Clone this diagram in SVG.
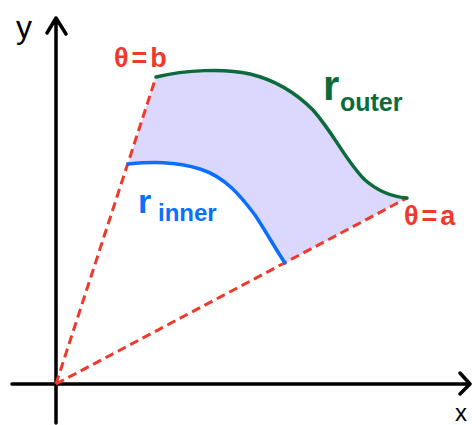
<svg xmlns="http://www.w3.org/2000/svg" width="472" height="425" viewBox="0 0 472 425">
<style>
.axis{stroke:#000;stroke-width:3.5;fill:none;stroke-linecap:round;stroke-linejoin:round}
.ray{stroke:#ee3a2c;stroke-width:3;fill:none;stroke-dasharray:9,5}
.lbl{font-family:"Liberation Sans","DejaVu Sans",sans-serif}
.b{font-weight:bold}
</style>
<rect width="472" height="425" fill="#fff"/>
<g id="region">
<path d="M156,77 C185,70 225,68 250,74 C275,80 295,92 313,110 C335,135 345,160 365,180 C380,193 395,197 407,198 L285,263 C275,248 265,230 255,215 C240,195 225,177 200,169 C175,161 150,162 128,164 Z" fill="#dcd7fc"/>
</g>
<g id="axes">
<path class="axis" d="M56,423 L56,18 M47,33 L56,18 L66,34"/>
<path class="axis" d="M12,384 L469,384 M460,373 L470,384 L460,394"/>
<text class="lbl" x="16" y="38" font-size="32">y</text>
<text class="lbl" x="455" y="421" font-size="24">x</text>
</g>
<g id="connectors">
<line class="ray" x1="56" y1="384" x2="156" y2="77"/>
<line class="ray" x1="56" y1="384" x2="407" y2="198"/>
</g>
<g id="outer">
<path d="M156,77 C185,70 225,68 250,74 C275,80 295,92 313,110 C335,135 345,160 365,180 C380,193 395,197 407,198" fill="none" stroke="#0b6b3a" stroke-width="3.5" stroke-linecap="round"/>
<text class="lbl b" x="323" y="100" font-size="42" fill="#0b6b3a">r</text>
<text class="lbl b" x="340" y="111" font-size="25" fill="#0b6b3a">outer</text>
</g>
<g id="inner">
<path d="M128,164 C150,162 175,161 200,169 C225,177 240,195 255,215 C265,230 275,248 285,263" fill="none" stroke="#0a6ffc" stroke-width="3.5" stroke-linecap="round"/>
<text class="lbl b" x="138" y="213" font-size="34" fill="#0a6ffc">r</text>
<text class="lbl b" x="158" y="221" font-size="24" fill="#0a6ffc">inner</text>
</g>
<g id="theta-b">
<text class="lbl b" x="114" y="67" font-size="27" letter-spacing="3" fill="#ee3a2c">θ=b</text>
</g>
<g id="theta-a">
<text class="lbl b" x="404" y="225" font-size="27" letter-spacing="3" fill="#ee3a2c">θ=a</text>
</g>
</svg>
